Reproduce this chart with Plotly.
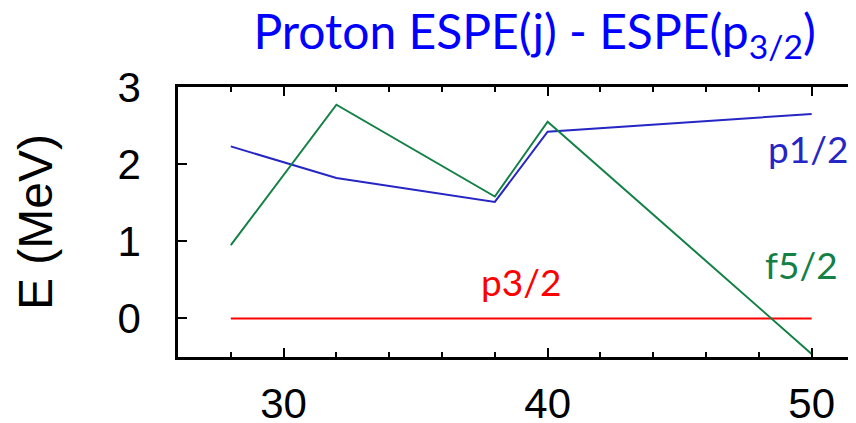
import plotly.graph_objects as go

x_vals = [28, 32, 38, 40, 50]
p32_vals = [0, 0, 0, 0, 0]
p12_vals = [2.23, 1.82, 1.51, 2.42, 2.65]
f52_vals = [0.95, 2.77, 1.58, 2.55, -0.46]

x_ticks = [30, 40, 50]
y_ticks = [0, 1, 2, 3]

RED = "#ff0000"
BLUE = "#2626c4"
GREEN = "#138045"

fig = go.Figure()
fig.add_trace(go.Scatter(x=x_vals, y=p32_vals, mode="lines", line=dict(color=RED, width=2)))
fig.add_trace(go.Scatter(x=x_vals, y=p12_vals, mode="lines", line=dict(color=BLUE, width=2)))
fig.add_trace(go.Scatter(x=x_vals, y=f52_vals, mode="lines", line=dict(color=GREEN, width=2)))

ann_font = "Lato, 'Open Sans', sans-serif"
fig.add_annotation(x=50, y=2.2, text="p1/2", showarrow=False, xanchor="center", yanchor="middle",
                   xshift=-4, font=dict(family=ann_font, size=37, color=BLUE))
fig.add_annotation(x=50, y=0.7, text="f5/2", showarrow=False, xanchor="center", yanchor="middle",
                   xshift=-10, font=dict(family=ann_font, size=37, color=GREEN))
fig.add_annotation(x=39.0, y=0.48, text="p3/2", showarrow=False, xanchor="center", yanchor="middle",
                   font=dict(family=ann_font, size=37, color=RED))

fig.update_layout(
    width=848, height=415,
    margin=dict(l=170, r=0, t=79, b=66, autoexpand=False),
    paper_bgcolor="white", plot_bgcolor="white",
    showlegend=False,
    title=dict(text="Proton ESPE(j) - ESPE(p<sub>3/2</sub>)", x=0.621, xanchor="center",
               xref="container", y=0.942, yanchor="middle",
               font=dict(family=ann_font, size=48, color="#0000ff")),
    font=dict(family="'Liberation Sans', Arial, sans-serif", color="black"),
)
fig.update_xaxes(range=[26, 51.68], showgrid=False, zeroline=False, automargin=False,
                 showline=True, linecolor="black", linewidth=2.5, mirror="ticks",
                 ticks="inside", ticklen=9, tickwidth=2, tickcolor="black",
                 tickvals=x_ticks, ticklabelstandoff=8,
                 minor=dict(dtick=2, tick0=0, ticks="inside", ticklen=5, tickwidth=1.5, tickcolor="black"),
                 tickfont=dict(size=42, color="black"))
fig.update_yaxes(range=[-0.5, 3.0], showgrid=False, zeroline=False, automargin=False,
                 showline=True, linecolor="black", linewidth=2.5, mirror=False,
                 ticks="inside", ticklen=9, tickwidth=2, tickcolor="black",
                 tickvals=y_ticks, ticklabelstandoff=26,
                 tickfont=dict(size=42, color="black"),
                 title=dict(text="E (MeV)", font=dict(size=48, color="black"), standoff=50))

fig.write_html("out.html")
